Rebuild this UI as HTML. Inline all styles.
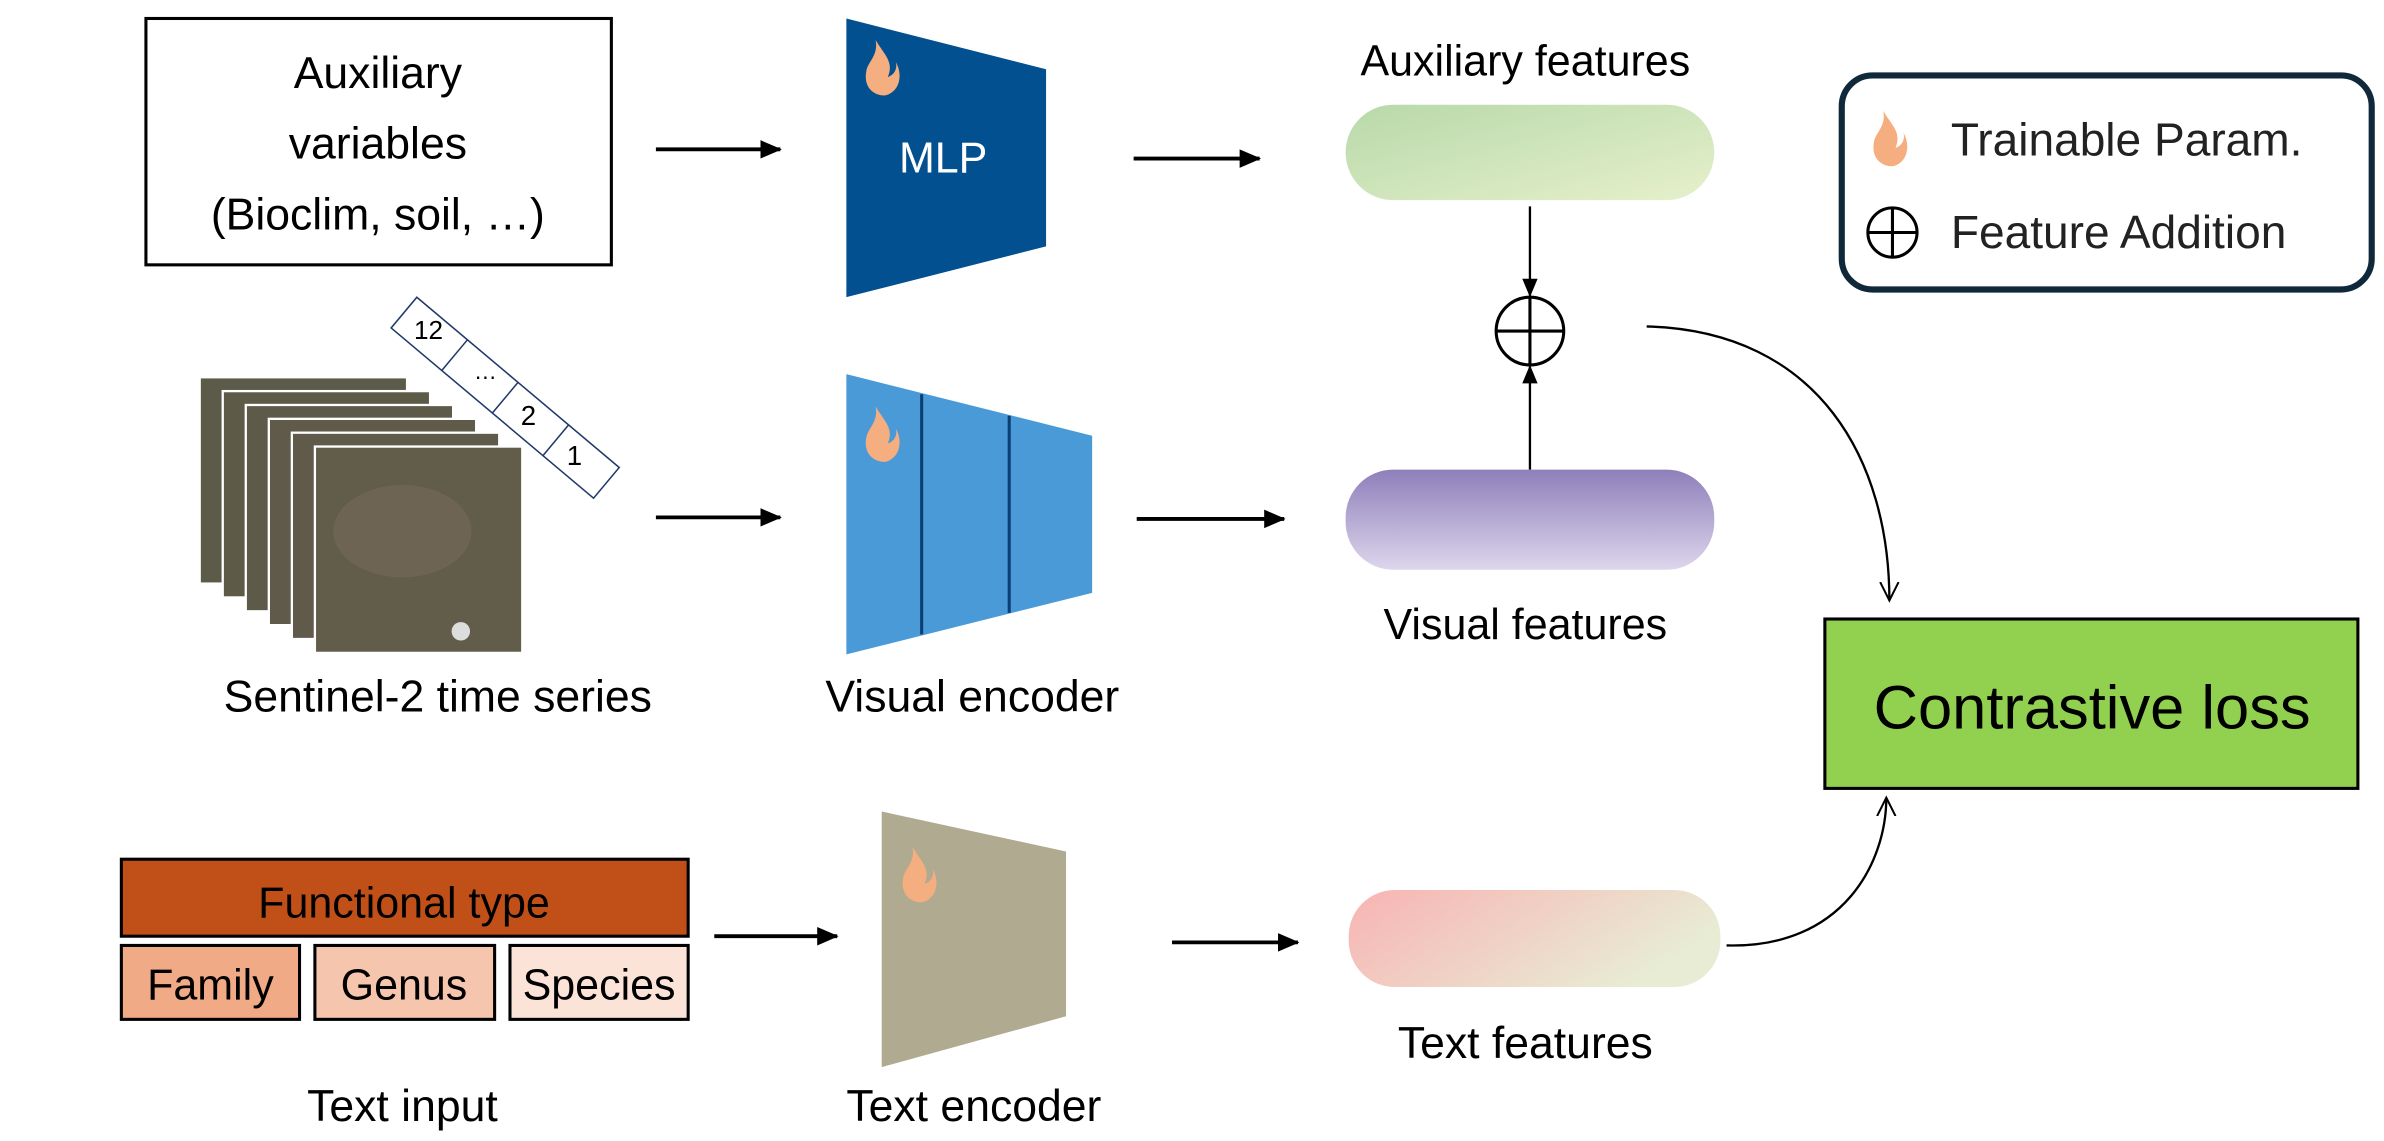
<!DOCTYPE html>
<html><head><meta charset="utf-8"><style>
html,body{margin:0;padding:0;background:#fff;}
svg{display:block;}
text{font-family:"Liberation Sans",sans-serif;fill:#000;}
</style></head><body>
<svg width="2384" height="1141" viewBox="0 0 1552 741" preserveAspectRatio="none" xmlns="http://www.w3.org/2000/svg">
<defs>
<marker id="ah" markerWidth="14" markerHeight="14" refX="13" refY="7" orient="auto" markerUnits="userSpaceOnUse"><path d="M0,1 L14,7 L0,13 z" fill="#000"/></marker>
<marker id="ah2" markerWidth="12" markerHeight="12" refX="11" refY="6" orient="auto" markerUnits="userSpaceOnUse"><path d="M0,1 L12,6 L0,11 z" fill="#000"/></marker>
<marker id="oh" markerWidth="14" markerHeight="14" refX="12" refY="7" orient="auto" markerUnits="userSpaceOnUse"><path d="M0,1 L12,7 L0,13" fill="none" stroke="#000" stroke-width="1.3"/></marker>
<linearGradient id="gA" x1="0" y1="0" x2="1" y2="1"><stop offset="0" stop-color="#b8d9a9"/><stop offset="1" stop-color="#e6f0cc"/></linearGradient>
<linearGradient id="gV" x1="0" y1="0" x2="0" y2="1"><stop offset="0" stop-color="#8e7fba"/><stop offset="1" stop-color="#ddd6ec"/></linearGradient>
<linearGradient id="gT" x1="0" y1="0" x2="1" y2="0.4"><stop offset="0" stop-color="#f8b3b3"/><stop offset="1" stop-color="#e8ecd4"/></linearGradient>
<g id="flame"><path d="M8,0 C14,10 20,14 16,24 C22,22 22,16 21,14 C26,22 24,34 14,36 C6,36 0,30 2,20 C3,14 10,10 8,0 Z" fill="#f4ae7f"/></g>
</defs>

<!-- Aux box -->
<rect x="95" y="12" width="303" height="160" fill="#fff" stroke="#000" stroke-width="2"/>
<text x="246" y="57" font-size="29" text-anchor="middle">Auxiliary</text>
<text x="246" y="103" font-size="29" text-anchor="middle">variables</text>
<text x="246" y="149" font-size="29" text-anchor="middle">(Bioclim, soil, …)</text>
<line x1="427" y1="97" x2="508" y2="97" stroke="#000" stroke-width="2.5" marker-end="url(#ah)"/>

<!-- MLP -->
<polygon points="551,12 681,45 681,160 551,193" fill="#02508f"/>
<use href="#flame" x="562" y="26"/>
<text x="614" y="112" font-size="28" text-anchor="middle" style="fill:#fff">MLP</text>
<line x1="738" y1="103" x2="820" y2="103" stroke="#000" stroke-width="2.5" marker-end="url(#ah)"/>

<text x="993" y="49" font-size="28" text-anchor="middle">Auxiliary features</text>
<rect x="876" y="68" width="240" height="62" rx="31" fill="url(#gA)"/>
<line x1="996" y1="134" x2="996" y2="192" stroke="#000" stroke-width="1.5" marker-end="url(#ah2)"/>
<circle cx="996" cy="215" r="22" fill="#fff" stroke="#000" stroke-width="2"/>
<line x1="996" y1="193" x2="996" y2="237" stroke="#000" stroke-width="2"/>
<line x1="974" y1="215" x2="1018" y2="215" stroke="#000" stroke-width="2"/>
<line x1="996" y1="305" x2="996" y2="238" stroke="#000" stroke-width="1.5" marker-end="url(#ah2)"/>
<rect x="876" y="305" width="240" height="65" rx="31" fill="url(#gV)"/>
<text x="993" y="415" font-size="28" text-anchor="middle">Visual features</text>

<!-- Legend -->
<rect x="1199" y="49" width="345" height="139" rx="20" fill="#fff" stroke="#10293a" stroke-width="4"/>
<use href="#flame" x="1218" y="72"/>
<text x="1270" y="101" font-size="30" style="fill:#222">Trainable Param.</text>
<circle cx="1232" cy="151" r="16" fill="none" stroke="#000" stroke-width="2"/>
<line x1="1216" y1="151" x2="1248" y2="151" stroke="#000" stroke-width="2"/>
<line x1="1232" y1="135" x2="1232" y2="167" stroke="#000" stroke-width="2"/>
<text x="1270" y="161" font-size="30" style="fill:#222">Feature Addition</text>

<path d="M1072 212 C1185 215 1230 300 1230 390" fill="none" stroke="#000" stroke-width="1.5" marker-end="url(#oh)"/>
<rect x="1188" y="402" width="347" height="110" fill="#92d050" stroke="#000" stroke-width="2"/>
<text x="1362" y="473" font-size="40" text-anchor="middle">Contrastive loss</text>

<!-- Sentinel stack -->
<g stroke="#fff" stroke-width="1.5">
<rect x="130" y="245" width="135" height="134" fill="#5c5a48"/>
<rect x="145" y="254" width="135" height="134" fill="#5d5a48"/>
<rect x="160" y="263" width="135" height="134" fill="#5e5a49"/>
<rect x="175" y="272" width="135" height="134" fill="#5f5a4a"/>
<rect x="190" y="281" width="135" height="134" fill="#605a4b"/>
<rect x="205" y="290" width="135" height="134" fill="#625c4b"/>
</g>
<ellipse cx="262" cy="345" rx="45" ry="30" fill="#76695a" opacity="0.6"/>
<circle cx="300" cy="410" r="6" fill="#ddd"/>
<g transform="translate(263,203) rotate(40)">
<rect x="0" y="-13" width="172" height="26" fill="#fff" stroke="#1f3a6a" stroke-width="1"/>
<line x1="43" y1="-13" x2="43" y2="13" stroke="#1f3a6a"/>
<line x1="86" y1="-13" x2="86" y2="13" stroke="#1f3a6a"/>
<line x1="129" y1="-13" x2="129" y2="13" stroke="#1f3a6a"/>
</g>
<text x="279" y="220" font-size="17" text-anchor="middle">12</text>
<text x="316" y="246" font-size="15" text-anchor="middle">…</text>
<text x="344" y="276" font-size="18" text-anchor="middle">2</text>
<text x="374" y="302" font-size="18" text-anchor="middle">1</text>
<text x="285" y="462" font-size="29" text-anchor="middle">Sentinel-2 time series</text>
<line x1="427" y1="336" x2="508" y2="336" stroke="#000" stroke-width="2.5" marker-end="url(#ah)"/>

<!-- Visual encoder -->
<polygon points="551,243 711,283 711,385 551,425" fill="#4a9ad8"/>
<line x1="600" y1="256" x2="600" y2="412" stroke="#0b3f73" stroke-width="2"/>
<line x1="657" y1="270" x2="657" y2="398" stroke="#0b3f73" stroke-width="2"/>
<use href="#flame" x="562" y="264"/>
<text x="633" y="462" font-size="29" text-anchor="middle">Visual encoder</text>
<line x1="740" y1="337" x2="836" y2="337" stroke="#000" stroke-width="2.5" marker-end="url(#ah)"/>

<!-- Text input -->
<rect x="79" y="558" width="369" height="50" fill="#c05018" stroke="#000" stroke-width="2"/>
<text x="263" y="596" font-size="28" text-anchor="middle">Functional type</text>
<rect x="79" y="614" width="116" height="48" fill="#f0aa85" stroke="#000" stroke-width="2"/>
<rect x="205" y="614" width="117" height="48" fill="#f5c6ad" stroke="#000" stroke-width="2"/>
<rect x="332" y="614" width="116" height="48" fill="#fce3d8" stroke="#000" stroke-width="2"/>
<text x="137" y="649" font-size="28" text-anchor="middle">Family</text>
<text x="263" y="649" font-size="28" text-anchor="middle">Genus</text>
<text x="390" y="649" font-size="28" text-anchor="middle">Species</text>
<text x="262" y="728" font-size="29" text-anchor="middle">Text input</text>
<line x1="465" y1="608" x2="545" y2="608" stroke="#000" stroke-width="2.5" marker-end="url(#ah)"/>

<!-- Text encoder -->
<polygon points="574,527 694,553 694,660 574,693" fill="#b0aa90"/>
<use href="#flame" x="586" y="550"/>
<text x="634" y="728" font-size="29" text-anchor="middle">Text encoder</text>
<line x1="763" y1="612" x2="845" y2="612" stroke="#000" stroke-width="2.5" marker-end="url(#ah)"/>

<rect x="878" y="578" width="242" height="63" rx="30" fill="url(#gT)"/>
<text x="993" y="687" font-size="29" text-anchor="middle">Text features</text>
<path d="M1124 614 C1200 616 1228 560 1228 518" fill="none" stroke="#000" stroke-width="1.5" marker-end="url(#oh)"/>
</svg>
</body></html>
